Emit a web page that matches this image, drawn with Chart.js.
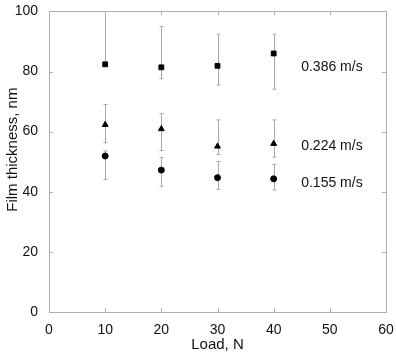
<!DOCTYPE html>
<html lang="en">
<head>
  <meta charset="UTF-8">
  <title>Film thickness vs load</title>
  <script src="https://cdn.jsdelivr.net/npm/chart.js@4.4.1/dist/chart.umd.min.js"></script>
  <style>
    html,body{margin:0;padding:0;background:#fff}
    #wrap{width:396px;height:356px}
  </style>
</head>
<body>
<div id="wrap"><canvas id="chart" width="396" height="356"></canvas></div>
<script>
/****************  DATA  ****************/
const loads=[10,20,30,40];
const xTicks=[0,10,20,30,40,50,60];
const yTicks=[0,20,40,60,80,100];

// 0.386 m/s (squares)
const fast=[82.4,81.4,81.9,86.0];
const fastLo=[82.4,77.6,75.5,74.1];
const fastHi=[100,95.0,92.4,92.4];
// 0.224 m/s (triangles)
const mid=[62.3,60.9,55.1,56.0];
const midLo=[56.3,53.7,52.4,51.5];
const midHi=[69.0,66.0,63.9,63.9];
// 0.155 m/s (circles)
const slow=[51.9,47.2,44.7,44.3];
const slowLo=[44.1,41.8,40.8,40.6];
const slowHi=[53.6,51.4,50.1,49.1];

const speedLabels=['0.386 m/s','0.224 m/s','0.155 m/s'];
const labelY=[81.5,55.3,42.8];
const yTitle='Film thickness, nm';

/****************  HELPERS  ****************/
const pts=(ys,lo,hi)=>loads.map((x,i)=>({x,y:ys[i],lo:lo[i],hi:hi[i]}));
const FONT='"Liberation Sans",Arial,Helvetica,sans-serif';

// error bars, drawn behind the markers
const errorBars={
  id:'errorBars',
  beforeDatasetsDraw(chart){
    const {ctx,scales:{x,y}}=chart;
    ctx.save();
    ctx.strokeStyle='#a8a8a8';ctx.lineWidth=1;
    chart.data.datasets.forEach(ds=>{
      ds.data.forEach(p=>{
        const px=Math.round(x.getPixelForValue(p.x))+0.5;
        const top=y.getPixelForValue(Math.min(p.hi,100));
        const bot=y.getPixelForValue(p.lo);
        ctx.beginPath();ctx.moveTo(px,top);ctx.lineTo(px,bot);
        if(p.hi<100){ctx.moveTo(px-2,top);ctx.lineTo(px+2,top);}
        if(p.lo<p.y){ctx.moveTo(px-2,bot);ctx.lineTo(px+2,bot);}
        ctx.stroke();
      });
    });
    ctx.restore();
  }
};

// box frame with inward ticks on all four sides, y title, series labels
const frame={
  id:'frame',
  afterDraw(chart){
    const {ctx,chartArea:a,scales:{x,y}}=chart;
    ctx.save();
    ctx.strokeStyle='#b0b0b0';ctx.lineWidth=1;
    ctx.strokeRect(Math.round(a.left)+0.5,Math.round(a.top)+0.5,Math.round(a.right-a.left),Math.round(a.bottom-a.top));
    ctx.beginPath();
    xTicks.slice(1,-1).forEach(v=>{
      const px=Math.round(x.getPixelForValue(v))+0.5;
      ctx.moveTo(px,a.bottom);ctx.lineTo(px,a.bottom-4);
      ctx.moveTo(px,a.top);ctx.lineTo(px,a.top+4);
    });
    yTicks.slice(1,-1).forEach(v=>{
      const py=Math.round(y.getPixelForValue(v))+0.5;
      ctx.moveTo(a.left,py);ctx.lineTo(a.left+4,py);
      ctx.moveTo(a.right,py);ctx.lineTo(a.right-4,py);
    });
    ctx.stroke();
    ctx.fillStyle='#111';ctx.textBaseline='middle';
    // y axis title, a bit above the middle as in the original
    ctx.save();
    ctx.font='15px '+FONT;ctx.textAlign='center';
    ctx.translate(13,y.getPixelForValue(54));ctx.rotate(-Math.PI/2);
    ctx.fillText(yTitle,0,0);
    ctx.restore();
    ctx.font='14px '+FONT;ctx.textAlign='left';
    speedLabels.forEach((t,i)=>{
      ctx.fillText(t,x.getPixelForValue(44.9),y.getPixelForValue(labelY[i]));
    });
    ctx.restore();
  }
};

/****************  CHART  ****************/
const marker={borderColor:'#000',backgroundColor:'#000',borderWidth:1,showLine:false};
new Chart(document.getElementById('chart'),{
  type:'scatter',
  data:{datasets:[
    {label:speedLabels[0],data:pts(fast,fastLo,fastHi),pointStyle:'rect',pointRadius:3.4,...marker},
    {label:speedLabels[1],data:pts(mid,midLo,midHi),pointStyle:'triangle',pointRadius:3.4,...marker},
    {label:speedLabels[2],data:pts(slow,slowLo,slowHi),pointStyle:'circle',pointRadius:3,...marker}
  ]},
  options:{
    responsive:false,animation:false,
    layout:{padding:{top:9,right:10,left:0,bottom:0}},
    plugins:{legend:{display:false},tooltip:{enabled:false}},
    scales:{
      x:{type:'linear',min:0,max:60,
        afterBuildTicks:s=>{s.ticks=xTicks.map(v=>({value:v}));},
        afterFit:s=>{s.height=44;},
        grid:{display:false},border:{display:false},
        ticks:{color:'#111',font:{family:FONT,size:14},padding:2,maxRotation:0},
        title:{display:true,text:'Load, N',color:'#111',font:{family:FONT,size:15},padding:{top:0,bottom:2}}},
      y:{type:'linear',min:0,max:100,
        afterBuildTicks:s=>{s.ticks=yTicks.map(v=>({value:v}));},
        afterFit:s=>{s.width=49;},
        grid:{display:false},border:{display:false},
        ticks:{color:'#111',font:{family:FONT,size:14},padding:3}}
    }
  },
  plugins:[errorBars,frame]
});
</script>
</body>
</html>
